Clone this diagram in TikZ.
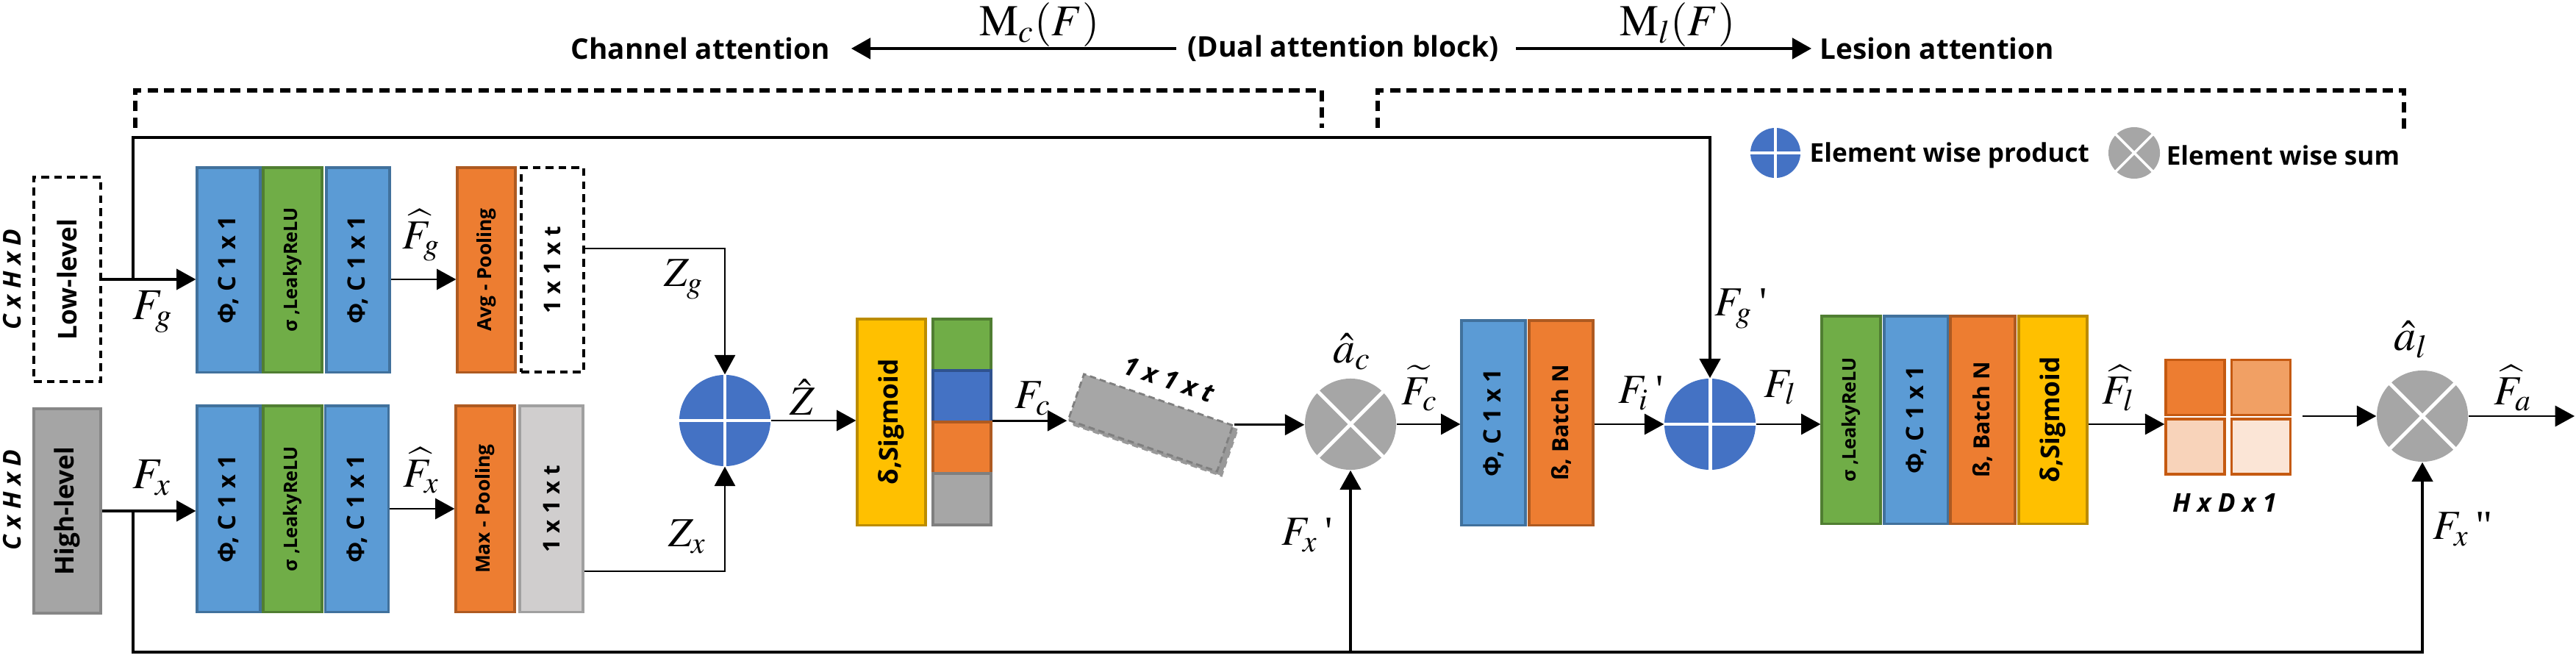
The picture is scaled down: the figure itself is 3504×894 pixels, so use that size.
\documentclass[tikz,border=0pt]{standalone}
\usepackage{mathptmx}
\usepackage{fontspec}
\setmainfont{Liberation Serif}
\newfontfamily\osans{Open Sans}
\usetikzlibrary{arrows.meta}
\definecolor{bfill}{HTML}{5B9BD5}
\definecolor{bdraw}{HTML}{41719C}
\definecolor{gfill}{HTML}{70AD47}
\definecolor{gdraw}{HTML}{507E32}
\definecolor{ofill}{HTML}{ED7D31}
\definecolor{odraw}{HTML}{AE5A21}
\definecolor{yfill}{HTML}{FFC000}
\definecolor{ydraw}{HTML}{BC8C00}
\definecolor{hgfill}{HTML}{A5A5A5}
\definecolor{hgdraw}{HTML}{878787}
\definecolor{lgfill}{HTML}{D0CECE}
\definecolor{lgdraw}{HTML}{A0A0A0}
\definecolor{pblue}{HTML}{4472C4}
\definecolor{pbluedraw}{HTML}{2F528F}
\definecolor{sgray}{HTML}{A6A6A6}
\definecolor{sgraydraw}{HTML}{7F7F7F}
\definecolor{cellA}{HTML}{ED7D31}
\definecolor{cellB}{HTML}{F1A064}
\definecolor{cellC}{HTML}{F8D3BA}
\definecolor{cellD}{HTML}{FBE5D6}
\definecolor{celldraw}{HTML}{C55A11}
\tikzset{
  layer/.style={draw, line width=0.9pt, inner sep=0pt, minimum height=2.78cm, text=black},
  bl/.style={layer, fill=bfill, draw=bdraw, minimum width=0.86cm, font=\osans\bfseries\fontsize{9.3}{10}\selectfont},
  gl/.style={layer, fill=gfill, draw=gdraw, minimum width=0.80cm, font=\osans\bfseries\fontsize{7.2}{8}\selectfont},
  ol/.style={layer, fill=ofill, draw=odraw, minimum width=0.80cm},
  yl/.style={layer, fill=yfill, draw=ydraw, minimum width=0.93cm, minimum height=2.80cm, font=\osans\bfseries\fontsize{10}{11}\selectfont},
  poolf/.style={font=\osans\bfseries\fontsize{7.5}{8}\selectfont},
  bnf/.style={font=\osans\bfseries\fontsize{8.6}{9}\selectfont},
  tf/.style={font=\osans\bfseries\fontsize{8.9}{9}\selectfont},
  dl/.style={layer, fill=white, draw=black, line width=1pt, dash pattern=on 3pt off 2pt, minimum width=0.85cm},
  gryl/.style={layer, fill=lgfill, draw=lgdraw, minimum width=0.86cm},
  inbox/.style={draw, inner sep=0pt, minimum width=0.91cm, minimum height=2.78cm, font=\osans\bfseries\fontsize{10}{11}\selectfont},
  dimf/.style={inner sep=0pt, font=\osans\bfseries\itshape\fontsize{9.5}{10}\selectfont},
  prod/.style={circle, fill=pblue, minimum size=1.24cm, inner sep=0pt},
  summ/.style={circle, fill=sgray, minimum size=1.24cm, inner sep=0pt},
  lab/.style={inner sep=0pt, font=\fontsize{16}{16}\selectfont},
  arrw/.style={line width=0.8pt, -{Triangle[length=7.5pt,width=8pt]}},
  heavy/.style={line width=1.3pt},
  dbrack/.style={line width=1.6pt, dash pattern=on 4pt off 2.4pt},
  ttl/.style={inner sep=0pt, font=\osans\bfseries\fontsize{11}{12}\selectfont},
  legf/.style={inner sep=0pt, font=\osans\bfseries\fontsize{10}{11}\selectfont},
  cellst/.style={draw=celldraw, line width=1pt, minimum width=0.80cm, minimum height=0.75cm, inner sep=0pt},
  cross/.style={white, line width=1.4pt},
  tbox/.style={draw=sgraydraw, fill=sgray, line width=0.8pt, dash pattern=on 2.5pt off 1.5pt, minimum width=2.14cm, minimum height=0.66cm, inner sep=0pt, rotate=-19},
}
\begin{document}
\begin{tikzpicture}[x=0.01cm, y=-0.01cm]
\useasboundingbox (0,0) rectangle (3504,894);

% ---------- titles ----------
\node[ttl] (chan) at (953,66) {Channel attention};
\node[ttl] (dual) at (1827,66) {(Dual attention block)};
\node[ttl] (les) at (2635,66) {Lesion attention};
\draw[arrw, line width=1.4pt] ([xshift=-0.15cm]dual.west) -- ([xshift=0.28cm]chan.east);
\draw[arrw, line width=1.4pt] ([xshift=0.23cm]dual.east) -- ([xshift=-0.11cm]les.west);
\node[lab, font=\fontsize{17}{17}\selectfont] (mc) at (1414,34) {$\mathrm{M}_c(F)$};
\node[lab, font=\fontsize{17}{17}\selectfont] (ml) at (2282,34) {$\mathrm{M}_l(F)$};

% ---------- dashed brackets ----------
\coordinate (bla) at (184,174);
\coordinate (blb) at (184,123);
\coordinate (blc) at (1798,123);
\coordinate (bld) at (1798,174);
\draw[dbrack] (bla) -- (blb) -- (blc) -- (bld);
\coordinate (bra) at (1874,174);
\coordinate (brb) at (1874,123);
\coordinate (brc) at (3270,123);
\coordinate (brd) at (3270,177);
\draw[dbrack] (bra) -- (brb) -- (brc) -- (brd);

% ---------- legend ----------
\node[prod, minimum size=0.68cm] (lg1) at (2415,208) {};
\draw[cross, line width=1pt] (lg1.north) -- (lg1.south) (lg1.west) -- (lg1.east);
\node[legf, anchor=west] (lgt1) at (2461,211) {Element wise product};
\node[summ, minimum size=0.70cm] (lg2) at (2903,208) {};
\draw[cross, line width=1pt] (lg2.north west) -- (lg2.south east) (lg2.north east) -- (lg2.south west);
\node[legf, anchor=west] (lgt2) at (2946,211) {Element wise sum};

% ---------- inputs ----------
\node[dimf] (cd1) at (17,380) {\rotatebox{90}{C x H x D}};
\node[dimf] (cd2) at (17,680) {\rotatebox{90}{C x H x D}};
\node[inbox, fill=white, line width=1pt, dash pattern=on 3pt off 2pt] (low) at (91.5,380) {\rotatebox{90}{Low-level}};
\node[inbox, fill=hgfill, draw=hgdraw, line width=1pt] (high) at (91.5,695) {\rotatebox{90}{High-level}};

% ---------- top row ----------
\node[bl] (b1) at (311,367) {\rotatebox{90}{Φ, C 1 x 1}};
\node[gl] (g1) at (398,367) {\rotatebox{90}{σ ,LeakyReLU}};
\node[bl] (b2) at (487,367) {\rotatebox{90}{Φ, C 1 x 1}};
\node[ol, poolf, minimum width=0.79cm] (avg) at (661.5,367) {\rotatebox{90}{Avg - Pooling}};
\node[dl, tf] (d1) at (751.5,367) {\rotatebox{90}{1 x 1 x t}};

% ---------- bottom row ----------
\node[bl, minimum height=2.80cm] (b3) at (311,692) {\rotatebox{90}{Φ, C 1 x 1}};
\node[gl, minimum height=2.80cm] (g2) at (398,692) {\rotatebox{90}{σ ,LeakyReLU}};
\node[bl, minimum height=2.80cm] (b4) at (485.5,692) {\rotatebox{90}{Φ, C 1 x 1}};
\node[ol, poolf, minimum height=2.80cm] (mx) at (660,692) {\rotatebox{90}{Max - Pooling}};
\node[gryl, tf, minimum height=2.80cm] (gr1) at (750,692) {\rotatebox{90}{1 x 1 x t}};

% ---------- channel attention ----------
\node[prod] (p1) at (986,572) {};
\draw[cross] (p1.north) -- (p1.south) (p1.west) -- (p1.east);
\node[yl] (sig) at (1212.5,574) {\rotatebox{90}{δ,Sigmoid}};
\node[draw=gdraw, fill=gfill, line width=0.9pt, minimum width=0.79cm, minimum height=0.70cm, inner sep=0pt] (st1) at (1308.5,469) {};
\node[draw=pbluedraw, fill=pblue, line width=0.9pt, minimum width=0.79cm, minimum height=0.70cm, inner sep=0pt] (st2) at (1308.5,539) {};
\node[draw=odraw, fill=ofill, line width=0.9pt, minimum width=0.79cm, minimum height=0.70cm, inner sep=0pt] (st3) at (1308.5,609) {};
\node[draw=sgraydraw, fill=sgray, line width=0.9pt, minimum width=0.79cm, minimum height=0.70cm, inner sep=0pt] (st4) at (1308.5,679) {};
\node[tbox, fill=sgraydraw!80, draw=sgraydraw!80] (tbs) at (1571,581) {};
\node[tbox] (tb) at (1565,575) {};
\node[inner sep=0pt, rotate=-19, font=\osans\bfseries\itshape\fontsize{10}{11}\selectfont] (tbl) at (1590,516) {1 x 1 x t};
\node[summ] (s1) at (1837,577) {};
\draw[cross] (s1.north west) -- (s1.south east) (s1.north east) -- (s1.south west);

% ---------- lesion attention ----------
\node[bl, minimum width=0.87cm] (b5) at (2031.5,575) {\rotatebox{90}{Φ, C 1 x 1}};
\node[ol, bnf, minimum width=0.87cm] (bn1) at (2123.5,575) {\rotatebox{90}{ß, Batch N}};
\node[prod] (p2) at (2326,577) {};
\draw[cross] (p2.north) -- (p2.south) (p2.west) -- (p2.east);
\node[gl, minimum height=2.82cm] (g3) at (2518,571) {\rotatebox{90}{σ ,LeakyReLU}};
\node[bl, minimum width=0.87cm, minimum height=2.82cm] (b6) at (2606.5,571) {\rotatebox{90}{Φ, C 1 x 1}};
\node[ol, bnf, minimum width=0.88cm, minimum height=2.82cm] (bn2) at (2697,571) {\rotatebox{90}{ß, Batch N}};
\node[yl, minimum height=2.82cm] (sig2) at (2792.5,571) {\rotatebox{90}{δ,Sigmoid}};
\node[cellst, fill=cellA] (c11) at (2986,527) {};
\node[cellst, fill=cellB] (c12) at (3075.5,527) {};
\node[cellst, fill=cellC] (c21) at (2986,607.5) {};
\node[cellst, fill=cellD] (c22) at (3075.5,607.5) {};
\node[dimf, font=\osans\bfseries\itshape\fontsize{10}{11}\selectfont] (hdl) at (3026,684) {H x D x 1};
\node[summ] (s2) at (3295,566) {};
\draw[cross] (s2.north west) -- (s2.south east) (s2.north east) -- (s2.south west);

% ---------- connectors ----------
\coordinate (j1) at (181,380);
\coordinate (j2) at (181,695);
\coordinate (ytop) at (0,187);
\coordinate (ybot) at (0,887);
\coordinate (gout) at (3132,566);
\coordinate (outend) at (3502,566);

\draw[arrw, line width=1pt] (low.east) -- (low.east -| b1.west);
\draw[arrw, line width=1pt] (high.east) -- (high.east -| b3.west);
\draw[arrw] (b2.east |- low.east) -- (low.east -| avg.west);
\draw[arrw] (b4.east) -- (b4.east -| mx.west);
\draw[arrw, heavy] (j1) |- (p2.north |- ytop) -- (p2.north);
\draw[arrw, heavy] (j2) |- (s2.south |- ybot) -- (s2.south);
\draw[arrw, heavy] (s1.south |- ybot) -- (s1.south);
\draw[arrw, line width=0.7pt] ([yshift=0.29cm]d1.east) -| (p1.north);
\draw[arrw, line width=0.7pt] ([yshift=-0.85cm]gr1.east) -| (p1.south);
\draw[arrw] (p1.east) -- (p1.east -| sig.west);
\draw[arrw] (st3.north east |- tb.south west) -- (tb.south west);
\draw[arrw] (tb.north east) -- (s1.west |- tb.north east);
\draw[arrw] (s1.east) -- (s1.east -| b5.west);
\draw[arrw] (bn1.east |- p2.west) -- (p2.west);
\draw[arrw] (p2.east) -- (p2.east -| g3.west);
\draw[arrw] (sig2.east |- p2.east) -- (p2.east -| c21.west);
\draw[arrw] (gout) -- (s2.west);
\draw[arrw] (s2.east) -- (outend);

% ---------- math labels ----------
\node[lab, font=\fontsize{17}{17}\selectfont] (lfg) at (208,424) {$F_g$};
\node[lab, font=\fontsize{17}{17}\selectfont] (lfx) at (207,650) {$F_x$};
\node[lab] (lfgh) at (573,320) {$\widehat{F}_g$};
\node[lab] (lfxh) at (573,640) {$\widehat{F}_x$};
\node[lab] (lzg) at (930,380) {$Z_g$};
\node[lab] (lzx) at (935,730) {$Z_x$};
\node[lab] (lzh) at (1092,540) {$\hat{Z}$};
\node[lab] (lfc) at (1405,542) {$F_c$};
\node[lab, font=\fontsize{17}{17}\selectfont] (lac) at (1839,478) {$\hat{a}_c$};
\node[lab] (lfxp) at (1778,728) {$F_x$\,\textquotesingle};
\node[lab] (lfct) at (1931,528) {$\widetilde{F}_c$};
\node[lab] (lfip) at (2232,535) {$F_i$\,\textquotesingle};
\node[lab] (lfgp) at (2368,420) {$F_g$\,\textquotesingle};
\node[lab] (lfl) at (2422,527) {$F_l$};
\node[lab] (lflh) at (2882,528) {$\widehat{F}_l$};
\node[lab, font=\fontsize{17}{17}\selectfont] (lal) at (3280,462) {$\hat{a}_l$};
\node[lab] (lfah) at (3418,528) {$\widehat{F}_a$};
\node[lab] (lfxpp) at (3350,720) {$F_x$\,\textquotedbl};
\end{tikzpicture}
\end{document}
